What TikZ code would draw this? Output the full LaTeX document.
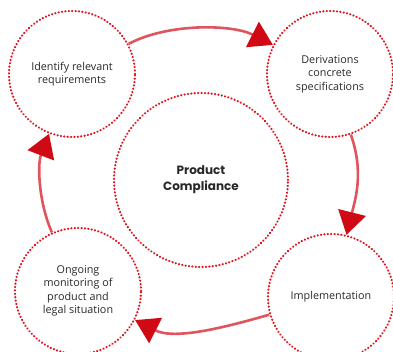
\documentclass[tikz,border=0pt]{standalone}
\usepackage{fontspec}
\setmainfont{Open Sans}
\newfontfamily\titlefont{Poppins}
\usetikzlibrary{arrows.meta}
\definecolor{dotred}{RGB}{225,20,30}
\definecolor{linered}{RGB}{224,84,94}
\definecolor{tipred}{RGB}{208,10,20}
\definecolor{txt}{RGB}{40,40,40}

\begin{document}
\begin{tikzpicture}[x=1pt,y=-1pt,
        stage/.style={circle, draw=dotred, line width=2.2pt, line cap=round,
          dash pattern=on 0.3pt off 3.1pt, minimum size=126pt, inner sep=0pt,
          align=center, text=txt, font=\fontsize{10.8}{13.5}\selectfont},
        arr/.style={linered, line width=2.6pt,
          -{Triangle[length=23pt,width=28pt,color=tipred]}}]
        \useasboundingbox (0,0) rectangle (393,352);
        \node[stage] (R) at (72,74) {Identify relevant\\requirements};
        \node[stage] (S) at (330,74) {Derivations\\concrete\\specifications};
        \node[stage] (I) at (331,297) {Implementation};
        \node[stage] (M) at (78,291) {Ongoing\\monitoring of\\product and\\legal situation};
        \node[stage, minimum size=174pt, font=\titlefont\bfseries\fontsize{12}{16}\selectfont] (P) at (201,180) {Product\\Compliance};
        \draw[arr] (R) to[out=28,in=153,looseness=0.8] (S);
        \draw[arr] (S) to[out=-71,in=76] (I);
        \draw[arr] (I) to[out=196,in=-27,looseness=0.85] (M);
        \draw[arr] (M) to[out=114,in=-111,looseness=0.85] (R);
      \end{tikzpicture}
\end{document}
